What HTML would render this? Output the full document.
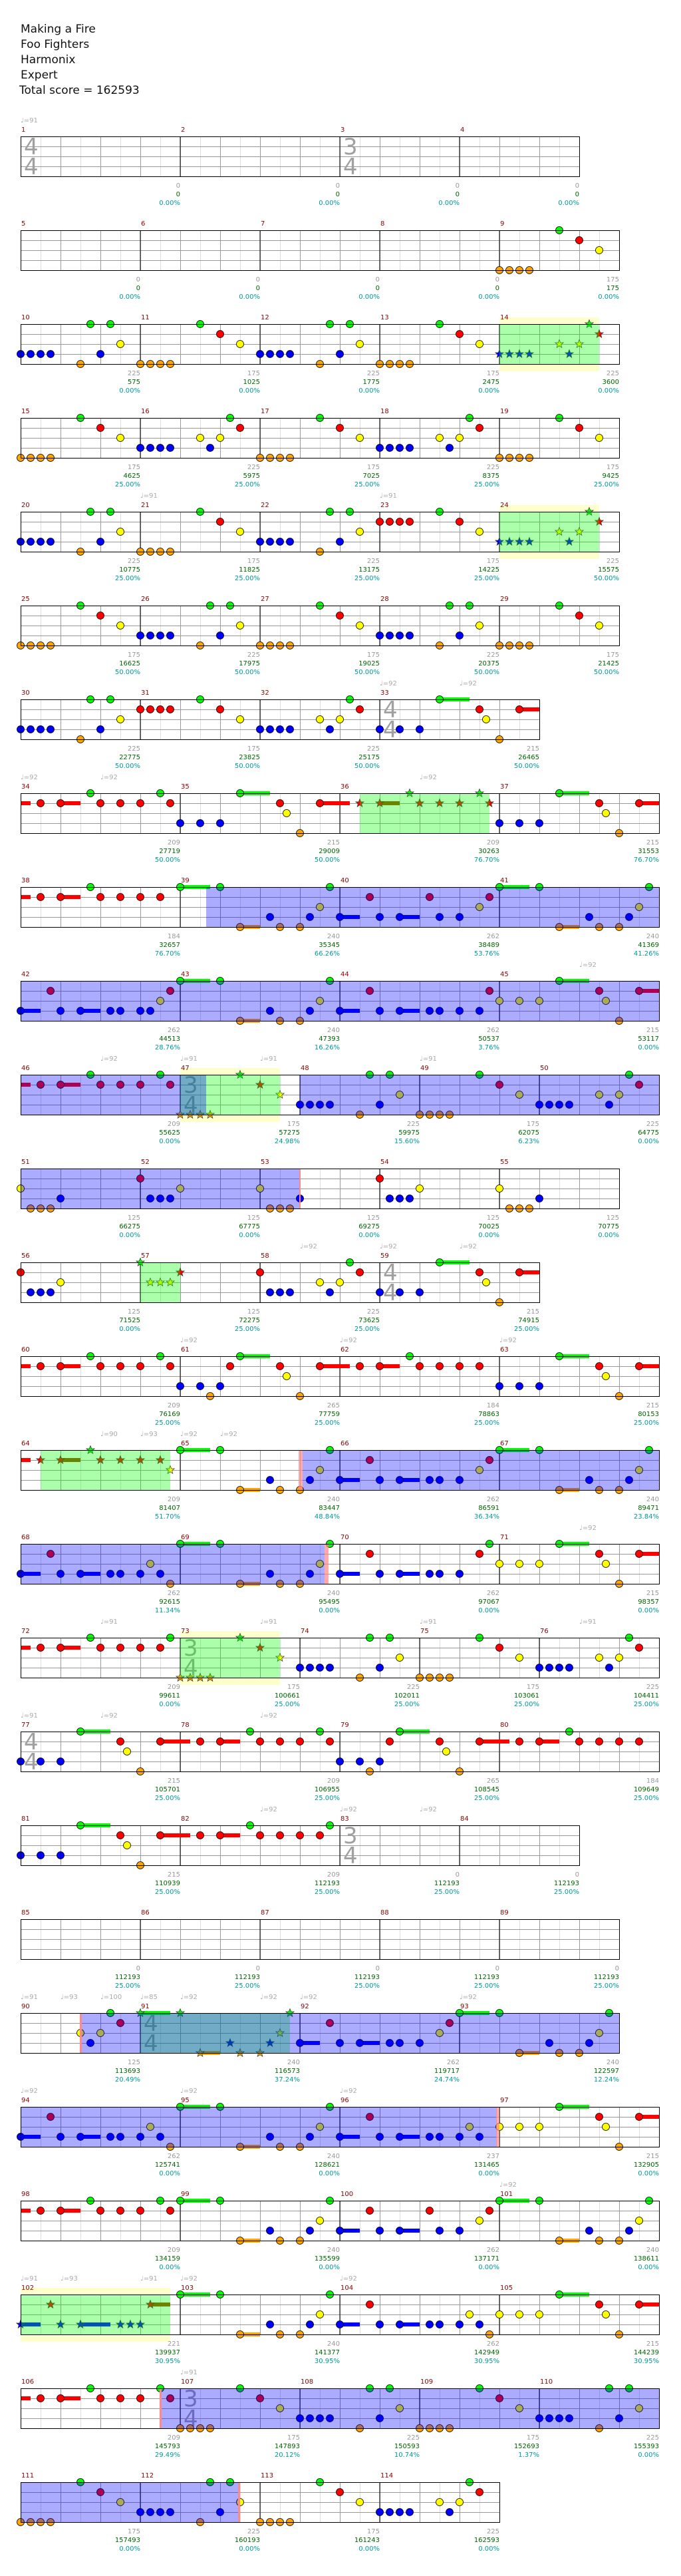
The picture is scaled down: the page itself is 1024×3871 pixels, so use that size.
<!DOCTYPE html>
<html><head><meta charset="utf-8"><style>
body{margin:0;background:#fff}
svg{display:block}
text{font-family:"DejaVu Sans","Liberation Sans",sans-serif}
.h{font-size:17px;fill:#111}
.mn{font-size:10px;fill:#8b0000}
.tp{font-size:10px;fill:#aaa}
.a{font-size:10px;fill:#999;text-anchor:end}
.b{font-size:10px;fill:#006400;text-anchor:end}
.c{font-size:10px;fill:#009a9a;text-anchor:end}
.ts{font-size:34px;fill:#a0a0a0}
</style></head><body>
<svg width="1024" height="3871" viewBox="0 0 1024 3871" xmlns="http://www.w3.org/2000/svg">
<defs>
<pattern id="grid" width="60" height="61" patternUnits="userSpaceOnUse">
<rect width="60" height="61" fill="#fff"/>
<line x1="30.5" y1="0" x2="30.5" y2="61" stroke="#dcdcdc"/>
<line x1="0.5" y1="0" x2="0.5" y2="61" stroke="#999"/>
<path d="M0 15.5h60M0 30.5h60M0 45.5h60" stroke="#999"/>
</pattern>
<circle id="g" r="5.5" fill="#00ff00" stroke="#000" stroke-width=".8"/>
<circle id="r" r="5.5" fill="#ff0000" stroke="#000" stroke-width=".8"/>
<circle id="y" r="5.5" fill="#ffff00" stroke="#000" stroke-width=".8"/>
<circle id="b" r="5.5" fill="#0000ff" stroke="#000" stroke-width=".8"/>
<circle id="o" r="5.5" fill="#ffa500" stroke="#000" stroke-width=".8"/>
<polygon id="st" points="0,-6.5 1.7,-2.1 6.2,-2 2.7,0.8 3.8,5.3 0,2.7 -3.8,5.3 -2.7,0.8 -6.2,-2 -1.7,-2.1" stroke="#333" stroke-width=".7"/>
<g id="A"><use href="#b" x="0" y="45"/><use href="#b" x="15" y="45"/><use href="#b" x="30" y="45"/><use href="#b" x="45" y="45"/><use href="#o" x="90" y="60"/><use href="#g" x="105" y="0"/><use href="#b" x="120" y="45"/><use href="#g" x="135" y="0"/><use href="#y" x="150" y="30"/></g>
<g id="Cm"><use href="#o" x="0" y="60"/><use href="#o" x="15" y="60"/><use href="#o" x="30" y="60"/><use href="#o" x="45" y="60"/><use href="#g" x="90" y="0"/><use href="#r" x="120" y="15"/><use href="#y" x="150" y="30"/></g>
<g id="Cr"><use href="#r" x="0" y="15"/><use href="#r" x="15" y="15"/><use href="#r" x="30" y="15"/><use href="#r" x="45" y="15"/><use href="#g" x="90" y="0"/><use href="#r" x="120" y="15"/><use href="#y" x="150" y="30"/></g>
<g id="Ap"><use href="#b" x="0" y="45"/><use href="#b" x="15" y="45"/><use href="#b" x="30" y="45"/><use href="#b" x="45" y="45"/><use href="#y" x="90" y="30"/><use href="#b" x="105" y="45"/><use href="#y" x="120" y="30"/><use href="#g" x="135" y="0"/><use href="#r" x="150" y="15"/></g>
<g id="D1"><use href="#y" x="0" y="30"/><use href="#o" x="15" y="60"/><use href="#o" x="30" y="60"/><use href="#o" x="45" y="60"/><use href="#b" x="60" y="45"/></g>
<g id="D2"><use href="#r" x="0" y="15"/><use href="#b" x="15" y="45"/><use href="#b" x="30" y="45"/><use href="#b" x="45" y="45"/><use href="#y" x="60" y="30"/></g>
<g id="S1"><rect x="90" y="-3" width="45" height="6" fill="#0f0"/><rect x="210" y="12" width="45" height="6" fill="#f00"/><use href="#b" x="0" y="45"/><use href="#b" x="30" y="45"/><use href="#b" x="60" y="45"/><use href="#g" x="90" y="0"/><use href="#r" x="150" y="15"/><use href="#y" x="160" y="30"/><use href="#o" x="180" y="60"/><use href="#r" x="210" y="15"/></g>
<g id="S1e"><rect x="90" y="-3" width="45" height="6" fill="#0f0"/><rect x="210" y="12" width="30" height="6" fill="#f00"/><use href="#b" x="0" y="45"/><use href="#b" x="30" y="45"/><use href="#b" x="60" y="45"/><use href="#g" x="90" y="0"/><use href="#r" x="150" y="15"/><use href="#y" x="160" y="30"/><use href="#o" x="180" y="60"/><use href="#r" x="210" y="15"/></g>
<g id="S2e"><rect x="90" y="-3" width="45" height="6" fill="#0f0"/><rect x="210" y="12" width="30" height="6" fill="#f00"/><use href="#y" x="0" y="30"/><use href="#y" x="30" y="30"/><use href="#y" x="60" y="30"/><use href="#g" x="90" y="0"/><use href="#r" x="150" y="15"/><use href="#y" x="160" y="30"/><use href="#o" x="180" y="60"/><use href="#r" x="210" y="15"/></g>
<g id="P"><rect x="0" y="12" width="15" height="6" fill="#f00"/><rect x="60" y="12" width="30" height="6" fill="#f00"/><use href="#r" x="30" y="15"/><use href="#r" x="60" y="15"/><use href="#g" x="105" y="0"/><use href="#r" x="120" y="15"/><use href="#r" x="150" y="15"/><use href="#r" x="180" y="15"/></g>
<g id="PA"><use href="#P"/><use href="#g" x="210" y="0"/><use href="#r" x="225" y="15"/></g>
<g id="Q"><rect x="0" y="-3" width="45" height="6" fill="#0f0"/><rect x="90" y="57" width="30" height="6" fill="#ffa500"/><use href="#g" x="0" y="0"/><use href="#g" x="60" y="0"/><use href="#o" x="90" y="60"/><use href="#b" x="135" y="45"/><use href="#o" x="150" y="60"/><use href="#o" x="180" y="60"/><use href="#b" x="195" y="45"/><use href="#y" x="210" y="30"/><use href="#g" x="225" y="0"/></g>
<g id="R0"><rect x="0" y="42" width="30" height="6" fill="#00f"/><rect x="90" y="42" width="30" height="6" fill="#00f"/><use href="#b" x="0" y="45"/><use href="#r" x="45" y="15"/><use href="#b" x="60" y="45"/><use href="#b" x="90" y="45"/><use href="#b" x="150" y="45"/><use href="#b" x="180" y="45"/></g>
<g id="M"><use href="#R0"/><use href="#b" x="135" y="45"/></g>
<g id="Aps"><use href="#st" fill="#00f" x="0" y="45"/><use href="#st" fill="#00f" x="15" y="45"/><use href="#st" fill="#00f" x="30" y="45"/><use href="#st" fill="#00f" x="45" y="45"/><use href="#st" fill="#ff0" x="90" y="30"/><use href="#st" fill="#00f" x="105" y="45"/><use href="#st" fill="#ff0" x="120" y="30"/><use href="#st" fill="#0f0" x="135" y="0"/><use href="#st" fill="#f00" x="150" y="15"/></g>
<g id="S47"><use href="#st" fill="#ffa500" x="0" y="60"/><use href="#st" fill="#ffa500" x="15" y="60"/><use href="#st" fill="#ffa500" x="30" y="60"/><use href="#st" fill="#ffa500" x="45" y="60"/><use href="#st" fill="#0f0" x="90" y="0"/><use href="#st" fill="#f00" x="120" y="15"/><use href="#st" fill="#ff0" x="150" y="30"/></g>
<g id="T44"><text class="ts" x="5" y="27">4</text><text class="ts" x="5" y="57">4</text></g>
<g id="T34"><text class="ts" x="5" y="27">3</text><text class="ts" x="5" y="57">4</text></g>
</defs>
<rect width="1024" height="3871" fill="#fff"/>
<text class="h" x="31" y="49">Making a Fire</text>
<text class="h" x="31" y="72">Foo Fighters</text>
<text class="h" x="31" y="95">Harmonix</text>
<text class="h" x="31" y="118">Expert</text>
<text class="h" x="29" y="141">Total score = 162593</text>

<g transform="translate(31,205)">
<rect width="840" height="61" fill="url(#grid)"/>
<path d="M240 0v61M480 0v61M660 0v61" stroke="#000"/>
<use href="#T44"/><use href="#T34" x="480"/>
<rect x=".5" y=".5" width="840" height="60" fill="none" stroke="#000"/>
<text class="tp" x="0" y="-21">♩=91</text>
<text class="mn" x="1" y="-7">1</text><text class="mn" x="241" y="-7">2</text><text class="mn" x="481" y="-7">3</text><text class="mn" x="661" y="-7">4</text>
<text class="a" x="240" y="77">0</text><text class="b" x="240" y="90">0</text><text class="c" x="240" y="103">0.00%</text>
<text class="a" x="480" y="77">0</text><text class="b" x="480" y="90">0</text><text class="c" x="480" y="103">0.00%</text>
<text class="a" x="660" y="77">0</text><text class="b" x="660" y="90">0</text><text class="c" x="660" y="103">0.00%</text>
<text class="a" x="840" y="77">0</text><text class="b" x="840" y="90">0</text><text class="c" x="840" y="103">0.00%</text>
</g>

<g transform="translate(31,346)">
<rect width="900" height="61" fill="url(#grid)"/>
<path d="M180 0v61M360 0v61M540 0v61M720 0v61" stroke="#000"/>
<use href="#Cm" x="720"/>
<rect x=".5" y=".5" width="900" height="60" fill="none" stroke="#000"/>
<text class="mn" x="1" y="-7">5</text><text class="mn" x="181" y="-7">6</text><text class="mn" x="361" y="-7">7</text><text class="mn" x="541" y="-7">8</text><text class="mn" x="721" y="-7">9</text>
<text class="a" x="180" y="77">0</text><text class="b" x="180" y="90">0</text><text class="c" x="180" y="103">0.00%</text>
<text class="a" x="360" y="77">0</text><text class="b" x="360" y="90">0</text><text class="c" x="360" y="103">0.00%</text>
<text class="a" x="540" y="77">0</text><text class="b" x="540" y="90">0</text><text class="c" x="540" y="103">0.00%</text>
<text class="a" x="720" y="77">0</text><text class="b" x="720" y="90">0</text><text class="c" x="720" y="103">0.00%</text>
<text class="a" x="900" y="77">175</text><text class="b" x="900" y="90">175</text><text class="c" x="900" y="103">0.00%</text>
</g>

<g transform="translate(31,487)">
<rect x="720" y="-10" width="150" height="81" fill="#ffffcc"/>
<rect width="900" height="61" fill="url(#grid)"/>
<path d="M180 0v61M360 0v61M540 0v61M720 0v61" stroke="#000"/>
<use href="#A" x="0"/><use href="#Cm" x="180"/><use href="#A" x="360"/><use href="#Cm" x="540"/><use href="#Aps" x="720"/>
<rect x="720" y="0" width="150" height="61" fill="#0f0" fill-opacity=".33"/>
<rect x=".5" y=".5" width="900" height="60" fill="none" stroke="#000"/>
<text class="mn" x="1" y="-7">10</text><text class="mn" x="181" y="-7">11</text><text class="mn" x="361" y="-7">12</text><text class="mn" x="541" y="-7">13</text><text class="mn" x="721" y="-7">14</text>
<text class="a" x="180" y="77">225</text><text class="b" x="180" y="90">575</text><text class="c" x="180" y="103">0.00%</text>
<text class="a" x="360" y="77">175</text><text class="b" x="360" y="90">1025</text><text class="c" x="360" y="103">0.00%</text>
<text class="a" x="540" y="77">225</text><text class="b" x="540" y="90">1775</text><text class="c" x="540" y="103">0.00%</text>
<text class="a" x="720" y="77">175</text><text class="b" x="720" y="90">2475</text><text class="c" x="720" y="103">0.00%</text>
<text class="a" x="900" y="77">225</text><text class="b" x="900" y="90">3600</text><text class="c" x="900" y="103">0.00%</text>
</g>

<g transform="translate(31,628)">
<rect width="900" height="61" fill="url(#grid)"/>
<path d="M180 0v61M360 0v61M540 0v61M720 0v61" stroke="#000"/>
<use href="#Cm" x="0"/><use href="#Ap" x="180"/><use href="#Cm" x="360"/><use href="#Ap" x="540"/><use href="#Cm" x="720"/>
<rect x=".5" y=".5" width="900" height="60" fill="none" stroke="#000"/>
<text class="mn" x="1" y="-7">15</text><text class="mn" x="181" y="-7">16</text><text class="mn" x="361" y="-7">17</text><text class="mn" x="541" y="-7">18</text><text class="mn" x="721" y="-7">19</text>
<text class="a" x="180" y="77">175</text><text class="b" x="180" y="90">4625</text><text class="c" x="180" y="103">25.00%</text>
<text class="a" x="360" y="77">225</text><text class="b" x="360" y="90">5975</text><text class="c" x="360" y="103">25.00%</text>
<text class="a" x="540" y="77">175</text><text class="b" x="540" y="90">7025</text><text class="c" x="540" y="103">25.00%</text>
<text class="a" x="720" y="77">225</text><text class="b" x="720" y="90">8375</text><text class="c" x="720" y="103">25.00%</text>
<text class="a" x="900" y="77">175</text><text class="b" x="900" y="90">9425</text><text class="c" x="900" y="103">25.00%</text>
</g>

<g transform="translate(31,769)">
<text class="tp" x="180" y="-21">♩=91</text><text class="tp" x="540" y="-21">♩=91</text>
<rect x="720" y="-10" width="150" height="81" fill="#ffffcc"/>
<rect width="900" height="61" fill="url(#grid)"/>
<path d="M180 0v61M360 0v61M540 0v61M720 0v61" stroke="#000"/>
<use href="#A" x="0"/><use href="#Cm" x="180"/><use href="#A" x="360"/><use href="#Cr" x="540"/><use href="#Aps" x="720"/>
<rect x="720" y="0" width="150" height="61" fill="#0f0" fill-opacity=".33"/>
<rect x=".5" y=".5" width="900" height="60" fill="none" stroke="#000"/>
<text class="mn" x="1" y="-7">20</text><text class="mn" x="181" y="-7">21</text><text class="mn" x="361" y="-7">22</text><text class="mn" x="541" y="-7">23</text><text class="mn" x="721" y="-7">24</text>
<text class="a" x="180" y="77">225</text><text class="b" x="180" y="90">10775</text><text class="c" x="180" y="103">25.00%</text>
<text class="a" x="360" y="77">175</text><text class="b" x="360" y="90">11825</text><text class="c" x="360" y="103">25.00%</text>
<text class="a" x="540" y="77">225</text><text class="b" x="540" y="90">13175</text><text class="c" x="540" y="103">25.00%</text>
<text class="a" x="720" y="77">175</text><text class="b" x="720" y="90">14225</text><text class="c" x="720" y="103">25.00%</text>
<text class="a" x="900" y="77">225</text><text class="b" x="900" y="90">15575</text><text class="c" x="900" y="103">50.00%</text>
</g>

<g transform="translate(31,910)">
<rect width="900" height="61" fill="url(#grid)"/>
<path d="M180 0v61M360 0v61M540 0v61M720 0v61" stroke="#000"/>
<use href="#Cm" x="0"/><use href="#A" x="180"/><use href="#Cm" x="360"/><use href="#A" x="540"/><use href="#Cm" x="720"/>
<rect x=".5" y=".5" width="900" height="60" fill="none" stroke="#000"/>
<text class="mn" x="1" y="-7">25</text><text class="mn" x="181" y="-7">26</text><text class="mn" x="361" y="-7">27</text><text class="mn" x="541" y="-7">28</text><text class="mn" x="721" y="-7">29</text>
<text class="a" x="180" y="77">175</text><text class="b" x="180" y="90">16625</text><text class="c" x="180" y="103">50.00%</text>
<text class="a" x="360" y="77">225</text><text class="b" x="360" y="90">17975</text><text class="c" x="360" y="103">50.00%</text>
<text class="a" x="540" y="77">175</text><text class="b" x="540" y="90">19025</text><text class="c" x="540" y="103">50.00%</text>
<text class="a" x="720" y="77">225</text><text class="b" x="720" y="90">20375</text><text class="c" x="720" y="103">50.00%</text>
<text class="a" x="900" y="77">175</text><text class="b" x="900" y="90">21425</text><text class="c" x="900" y="103">50.00%</text>
</g>

<g transform="translate(31,1051)">
<text class="tp" x="540" y="-21">♩=92</text><text class="tp" x="660" y="-21">♩=92</text>
<rect width="780" height="61" fill="url(#grid)"/>
<path d="M180 0v61M360 0v61M540 0v61" stroke="#000"/>
<use href="#T44" x="540"/>
<use href="#A" x="0"/><use href="#Cr" x="180"/><use href="#Ap" x="360"/><use href="#S1e" x="540"/>
<rect x=".5" y=".5" width="780" height="60" fill="none" stroke="#000"/>
<text class="mn" x="1" y="-7">30</text><text class="mn" x="181" y="-7">31</text><text class="mn" x="361" y="-7">32</text><text class="mn" x="541" y="-7">33</text>
<text class="a" x="180" y="77">225</text><text class="b" x="180" y="90">22775</text><text class="c" x="180" y="103">50.00%</text>
<text class="a" x="360" y="77">175</text><text class="b" x="360" y="90">23825</text><text class="c" x="360" y="103">50.00%</text>
<text class="a" x="540" y="77">225</text><text class="b" x="540" y="90">25175</text><text class="c" x="540" y="103">50.00%</text>
<text class="a" x="780" y="77">215</text><text class="b" x="780" y="90">26465</text><text class="c" x="780" y="103">50.00%</text>
</g>

<g transform="translate(31,1192)">
<text class="tp" x="0" y="-21">♩=92</text><text class="tp" x="120" y="-21">♩=92</text><text class="tp" x="600" y="-21">♩=92</text>
<rect width="960" height="61" fill="url(#grid)"/>
<path d="M240 0v61M480 0v61M720 0v61" stroke="#000"/>
<use href="#PA" x="0"/><use href="#S1" x="240"/>
<g transform="translate(480,0)"><rect x="60" y="12" width="30" height="6" fill="#a04800"/><use href="#st" fill="#f00" x="30" y="15"/><use href="#st" fill="#f00" x="60" y="15"/><use href="#st" fill="#0f0" x="105" y="0"/><use href="#st" fill="#f00" x="120" y="15"/><use href="#st" fill="#f00" x="150" y="15"/><use href="#st" fill="#f00" x="180" y="15"/><use href="#st" fill="#0f0" x="210" y="0"/><use href="#st" fill="#f00" x="225" y="15"/></g>
<use href="#S1e" x="720"/>
<rect x="510" y="0" width="195" height="61" fill="#0f0" fill-opacity=".33"/>
<rect x=".5" y=".5" width="960" height="60" fill="none" stroke="#000"/>
<text class="mn" x="1" y="-7">34</text><text class="mn" x="241" y="-7">35</text><text class="mn" x="481" y="-7">36</text><text class="mn" x="721" y="-7">37</text>
<text class="a" x="240" y="77">209</text><text class="b" x="240" y="90">27719</text><text class="c" x="240" y="103">50.00%</text>
<text class="a" x="480" y="77">215</text><text class="b" x="480" y="90">29009</text><text class="c" x="480" y="103">50.00%</text>
<text class="a" x="720" y="77">209</text><text class="b" x="720" y="90">30263</text><text class="c" x="720" y="103">76.70%</text>
<text class="a" x="960" y="77">215</text><text class="b" x="960" y="90">31553</text><text class="c" x="960" y="103">76.70%</text>
</g>

<g transform="translate(31,1333)">
<rect width="960" height="61" fill="url(#grid)"/>
<path d="M240 0v61M480 0v61M720 0v61" stroke="#000"/>
<use href="#P" x="0"/><use href="#r" x="210" y="15"/>
<use href="#Q" x="240"/>
<use href="#R0" x="480"/><use href="#r" x="615" y="15"/><use href="#y" x="690" y="30"/><use href="#r" x="705" y="15"/>
<use href="#Q" x="720"/>
<rect x="279" y="0" width="681" height="61" fill="#00f" fill-opacity=".33"/>
<rect x=".5" y=".5" width="960" height="60" fill="none" stroke="#000"/>
<text class="mn" x="1" y="-7">38</text><text class="mn" x="241" y="-7">39</text><text class="mn" x="481" y="-7">40</text><text class="mn" x="721" y="-7">41</text>
<text class="a" x="240" y="77">184</text><text class="b" x="240" y="90">32657</text><text class="c" x="240" y="103">76.70%</text>
<text class="a" x="480" y="77">240</text><text class="b" x="480" y="90">35345</text><text class="c" x="480" y="103">66.26%</text>
<text class="a" x="720" y="77">262</text><text class="b" x="720" y="90">38489</text><text class="c" x="720" y="103">53.76%</text>
<text class="a" x="960" y="77">240</text><text class="b" x="960" y="90">41369</text><text class="c" x="960" y="103">41.26%</text>
</g>

<g transform="translate(31,1474)">
<text class="tp" x="840" y="-21">♩=92</text>
<rect width="960" height="61" fill="url(#grid)"/>
<path d="M240 0v61M480 0v61M720 0v61" stroke="#000"/>
<use href="#M" x="0"/><use href="#b" x="195" y="45"/><use href="#y" x="210" y="30"/><use href="#r" x="225" y="15"/>
<use href="#Q" x="240"/>
<use href="#R0" x="480"/><use href="#b" x="615" y="45"/><use href="#b" x="690" y="45"/><use href="#r" x="705" y="15"/>
<use href="#S2e" x="720"/>
<rect x="0" y="0" width="960" height="61" fill="#00f" fill-opacity=".33"/>
<rect x=".5" y=".5" width="960" height="60" fill="none" stroke="#000"/>
<text class="mn" x="1" y="-7">42</text><text class="mn" x="241" y="-7">43</text><text class="mn" x="481" y="-7">44</text><text class="mn" x="721" y="-7">45</text>
<text class="a" x="240" y="77">262</text><text class="b" x="240" y="90">44513</text><text class="c" x="240" y="103">28.76%</text>
<text class="a" x="480" y="77">240</text><text class="b" x="480" y="90">47393</text><text class="c" x="480" y="103">16.26%</text>
<text class="a" x="720" y="77">262</text><text class="b" x="720" y="90">50537</text><text class="c" x="720" y="103">3.76%</text>
<text class="a" x="960" y="77">215</text><text class="b" x="960" y="90">53117</text><text class="c" x="960" y="103">0.00%</text>
</g>

<g transform="translate(31,1615)">
<text class="tp" x="120" y="-21">♩=92</text><text class="tp" x="240" y="-21">♩=91</text><text class="tp" x="360" y="-21">♩=91</text><text class="tp" x="600" y="-21">♩=91</text>
<rect x="240" y="-10" width="150" height="81" fill="#ffffcc"/>
<rect width="960" height="61" fill="url(#grid)"/>
<path d="M240 0v61M420 0v61M600 0v61M780 0v61" stroke="#000"/>
<use href="#T34" x="240"/>
<use href="#PA" x="0"/><use href="#S47" x="240"/><use href="#A" x="420"/><use href="#Cm" x="600"/><use href="#Ap" x="780"/>
<rect x="240" y="0" width="150" height="61" fill="#0f0" fill-opacity=".33"/>
<rect x="0" y="0" width="279" height="61" fill="#00f" fill-opacity=".33"/>
<rect x="420" y="0" width="540" height="61" fill="#00f" fill-opacity=".33"/>
<rect x=".5" y=".5" width="960" height="60" fill="none" stroke="#000"/>
<text class="mn" x="1" y="-7">46</text><text class="mn" x="241" y="-7">47</text><text class="mn" x="421" y="-7">48</text><text class="mn" x="601" y="-7">49</text><text class="mn" x="781" y="-7">50</text>
<text class="a" x="240" y="77">209</text><text class="b" x="240" y="90">55625</text><text class="c" x="240" y="103">0.00%</text>
<text class="a" x="420" y="77">175</text><text class="b" x="420" y="90">57275</text><text class="c" x="420" y="103">24.98%</text>
<text class="a" x="600" y="77">225</text><text class="b" x="600" y="90">59975</text><text class="c" x="600" y="103">15.60%</text>
<text class="a" x="780" y="77">175</text><text class="b" x="780" y="90">62075</text><text class="c" x="780" y="103">6.23%</text>
<text class="a" x="960" y="77">225</text><text class="b" x="960" y="90">64775</text><text class="c" x="960" y="103">0.00%</text>
</g>

<g transform="translate(31,1756)">
<rect width="900" height="61" fill="url(#grid)"/>
<path d="M180 0v61M360 0v61M540 0v61M720 0v61" stroke="#000"/>
<use href="#D1" x="0"/><use href="#D2" x="180"/><use href="#D1" x="360"/><use href="#D2" x="540"/><use href="#D1" x="720"/>
<rect x="0" y="0" width="420" height="61" fill="#00f" fill-opacity=".33"/>
<rect x="419" y="0" width="2" height="61" fill="#f88"/>
<rect x=".5" y=".5" width="900" height="60" fill="none" stroke="#000"/>
<text class="mn" x="1" y="-7">51</text><text class="mn" x="181" y="-7">52</text><text class="mn" x="361" y="-7">53</text><text class="mn" x="541" y="-7">54</text><text class="mn" x="721" y="-7">55</text>
<text class="a" x="180" y="77">125</text><text class="b" x="180" y="90">66275</text><text class="c" x="180" y="103">0.00%</text>
<text class="a" x="360" y="77">125</text><text class="b" x="360" y="90">67775</text><text class="c" x="360" y="103">0.00%</text>
<text class="a" x="540" y="77">125</text><text class="b" x="540" y="90">69275</text><text class="c" x="540" y="103">0.00%</text>
<text class="a" x="720" y="77">125</text><text class="b" x="720" y="90">70025</text><text class="c" x="720" y="103">0.00%</text>
<text class="a" x="900" y="77">125</text><text class="b" x="900" y="90">70775</text><text class="c" x="900" y="103">0.00%</text>
</g>

<g transform="translate(31,1897)">
<text class="tp" x="420" y="-21">♩=92</text><text class="tp" x="540" y="-21">♩=92</text><text class="tp" x="660" y="-21">♩=92</text>
<rect width="780" height="61" fill="url(#grid)"/>
<path d="M180 0v61M360 0v61M540 0v61" stroke="#000"/>
<use href="#T44" x="540"/>
<use href="#D2" x="0"/>
<g transform="translate(180,0)"><use href="#st" fill="#0f0" x="0" y="0"/><use href="#st" fill="#ff0" x="15" y="30"/><use href="#st" fill="#ff0" x="30" y="30"/><use href="#st" fill="#ff0" x="45" y="30"/><use href="#st" fill="#f00" x="60" y="15"/></g>
<g transform="translate(360,0)"><use href="#r" x="0" y="15"/><use href="#b" x="15" y="45"/><use href="#b" x="30" y="45"/><use href="#b" x="45" y="45"/><use href="#y" x="90" y="30"/><use href="#b" x="105" y="45"/><use href="#y" x="120" y="30"/><use href="#g" x="135" y="0"/><use href="#r" x="150" y="15"/></g>
<use href="#S1e" x="540"/>
<rect x="180" y="0" width="60" height="61" fill="#0f0" fill-opacity=".33"/>
<rect x=".5" y=".5" width="780" height="60" fill="none" stroke="#000"/>
<text class="mn" x="1" y="-7">56</text><text class="mn" x="181" y="-7">57</text><text class="mn" x="361" y="-7">58</text><text class="mn" x="541" y="-7">59</text>
<text class="a" x="180" y="77">125</text><text class="b" x="180" y="90">71525</text><text class="c" x="180" y="103">0.00%</text>
<text class="a" x="360" y="77">125</text><text class="b" x="360" y="90">72275</text><text class="c" x="360" y="103">25.00%</text>
<text class="a" x="540" y="77">225</text><text class="b" x="540" y="90">73625</text><text class="c" x="540" y="103">25.00%</text>
<text class="a" x="780" y="77">215</text><text class="b" x="780" y="90">74915</text><text class="c" x="780" y="103">25.00%</text>
</g>

<g transform="translate(31,2038)">
<text class="tp" x="240" y="-21">♩=92</text><text class="tp" x="480" y="-21">♩=92</text><text class="tp" x="720" y="-21">♩=92</text>
<rect width="960" height="61" fill="url(#grid)"/>
<path d="M240 0v61M480 0v61M720 0v61" stroke="#000"/>
<use href="#PA" x="0"/>
<use href="#S1" x="240"/><use href="#o" x="285" y="60"/><use href="#r" x="315" y="15"/>
<use href="#P" x="480"/><use href="#r" x="690" y="15"/>
<use href="#S1e" x="720"/>
<rect x=".5" y=".5" width="960" height="60" fill="none" stroke="#000"/>
<text class="mn" x="1" y="-7">60</text><text class="mn" x="241" y="-7">61</text><text class="mn" x="481" y="-7">62</text><text class="mn" x="721" y="-7">63</text>
<text class="a" x="240" y="77">209</text><text class="b" x="240" y="90">76169</text><text class="c" x="240" y="103">25.00%</text>
<text class="a" x="480" y="77">265</text><text class="b" x="480" y="90">77759</text><text class="c" x="480" y="103">25.00%</text>
<text class="a" x="720" y="77">184</text><text class="b" x="720" y="90">78863</text><text class="c" x="720" y="103">25.00%</text>
<text class="a" x="960" y="77">215</text><text class="b" x="960" y="90">80153</text><text class="c" x="960" y="103">25.00%</text>
</g>

<g transform="translate(31,2179)">
<text class="tp" x="120" y="-21">♩=90</text><text class="tp" x="180" y="-21">♩=93</text><text class="tp" x="240" y="-21">♩=92</text><text class="tp" x="300" y="-21">♩=92</text>
<rect width="960" height="61" fill="url(#grid)"/>
<path d="M240 0v61M480 0v61M720 0v61" stroke="#000"/>
<rect x="0" y="12" width="15" height="6" fill="#f00"/><rect x="60" y="12" width="30" height="6" fill="#a04800"/>
<use href="#st" fill="#f00" x="30" y="15"/><use href="#st" fill="#f00" x="60" y="15"/><use href="#st" fill="#0f0" x="105" y="0"/><use href="#st" fill="#f00" x="120" y="15"/><use href="#st" fill="#f00" x="150" y="15"/><use href="#st" fill="#f00" x="180" y="15"/><use href="#st" fill="#f00" x="210" y="15"/><use href="#st" fill="#ff0" x="225" y="30"/>
<use href="#Q" x="240"/>
<use href="#R0" x="480"/><use href="#b" x="615" y="45"/><use href="#y" x="690" y="30"/><use href="#r" x="705" y="15"/>
<use href="#Q" x="720"/>
<rect x="30" y="0" width="195" height="61" fill="#0f0" fill-opacity=".33"/>
<rect x="424" y="0" width="536" height="61" fill="#00f" fill-opacity=".33"/>
<rect x="418" y="0" width="6" height="61" fill="#f88" fill-opacity=".7"/>
<rect x=".5" y=".5" width="960" height="60" fill="none" stroke="#000"/>
<text class="mn" x="1" y="-7">64</text><text class="mn" x="241" y="-7">65</text><text class="mn" x="481" y="-7">66</text><text class="mn" x="721" y="-7">67</text>
<text class="a" x="240" y="77">209</text><text class="b" x="240" y="90">81407</text><text class="c" x="240" y="103">51.70%</text>
<text class="a" x="480" y="77">240</text><text class="b" x="480" y="90">83447</text><text class="c" x="480" y="103">48.84%</text>
<text class="a" x="720" y="77">262</text><text class="b" x="720" y="90">86591</text><text class="c" x="720" y="103">36.34%</text>
<text class="a" x="960" y="77">240</text><text class="b" x="960" y="90">89471</text><text class="c" x="960" y="103">23.84%</text>
</g>

<g transform="translate(31,2320)">
<text class="tp" x="840" y="-21">♩=92</text>
<rect width="960" height="61" fill="url(#grid)"/>
<path d="M240 0v61M480 0v61M720 0v61" stroke="#000"/>
<use href="#M" x="0"/><use href="#y" x="195" y="30"/><use href="#b" x="210" y="45"/><use href="#o" x="225" y="60"/>
<use href="#Q" x="240"/>
<use href="#R0" x="480"/><use href="#b" x="615" y="45"/><use href="#r" x="690" y="15"/><use href="#g" x="705" y="0"/>
<use href="#S2e" x="720"/>
<rect x="0" y="0" width="457" height="61" fill="#00f" fill-opacity=".33"/>
<rect x="457" y="0" width="6" height="61" fill="#f88" fill-opacity=".7"/>
<rect x=".5" y=".5" width="960" height="60" fill="none" stroke="#000"/>
<text class="mn" x="1" y="-7">68</text><text class="mn" x="241" y="-7">69</text><text class="mn" x="481" y="-7">70</text><text class="mn" x="721" y="-7">71</text>
<text class="a" x="240" y="77">262</text><text class="b" x="240" y="90">92615</text><text class="c" x="240" y="103">11.34%</text>
<text class="a" x="480" y="77">240</text><text class="b" x="480" y="90">95495</text><text class="c" x="480" y="103">0.00%</text>
<text class="a" x="720" y="77">262</text><text class="b" x="720" y="90">97067</text><text class="c" x="720" y="103">0.00%</text>
<text class="a" x="960" y="77">215</text><text class="b" x="960" y="90">98357</text><text class="c" x="960" y="103">0.00%</text>
</g>

<g transform="translate(31,2461)">
<text class="tp" x="120" y="-21">♩=91</text><text class="tp" x="360" y="-21">♩=91</text><text class="tp" x="600" y="-21">♩=91</text><text class="tp" x="840" y="-21">♩=91</text>
<rect x="240" y="-10" width="150" height="81" fill="#ffffcc"/>
<rect width="960" height="61" fill="url(#grid)"/>
<path d="M240 0v61M420 0v61M600 0v61M780 0v61" stroke="#000"/>
<use href="#T34" x="240"/>
<use href="#P" x="0"/><use href="#r" x="210" y="15"/><use href="#g" x="225" y="0"/>
<use href="#S47" x="240"/><use href="#A" x="420"/><use href="#Cm" x="600"/><use href="#Ap" x="780"/>
<rect x="240" y="0" width="150" height="61" fill="#0f0" fill-opacity=".33"/>
<rect x=".5" y=".5" width="960" height="60" fill="none" stroke="#000"/>
<text class="mn" x="1" y="-7">72</text><text class="mn" x="241" y="-7">73</text><text class="mn" x="421" y="-7">74</text><text class="mn" x="601" y="-7">75</text><text class="mn" x="781" y="-7">76</text>
<text class="a" x="240" y="77">209</text><text class="b" x="240" y="90">99611</text><text class="c" x="240" y="103">0.00%</text>
<text class="a" x="420" y="77">175</text><text class="b" x="420" y="90">100661</text><text class="c" x="420" y="103">25.00%</text>
<text class="a" x="600" y="77">225</text><text class="b" x="600" y="90">102011</text><text class="c" x="600" y="103">25.00%</text>
<text class="a" x="780" y="77">175</text><text class="b" x="780" y="90">103061</text><text class="c" x="780" y="103">25.00%</text>
<text class="a" x="960" y="77">225</text><text class="b" x="960" y="90">104411</text><text class="c" x="960" y="103">25.00%</text>
</g>

<g transform="translate(31,2602)">
<text class="tp" x="0" y="-21">♩=91</text><text class="tp" x="120" y="-21">♩=92</text><text class="tp" x="360" y="-21">♩=92</text>
<rect width="960" height="61" fill="url(#grid)"/>
<path d="M240 0v61M480 0v61M720 0v61" stroke="#000"/>
<use href="#T44"/>
<use href="#S1" x="0"/><use href="#PA" x="240"/>
<use href="#S1" x="480"/><use href="#o" x="525" y="60"/><use href="#r" x="555" y="15"/>
<use href="#P" x="720"/><use href="#r" x="930" y="15"/>
<rect x=".5" y=".5" width="960" height="60" fill="none" stroke="#000"/>
<text class="mn" x="1" y="-7">77</text><text class="mn" x="241" y="-7">78</text><text class="mn" x="481" y="-7">79</text><text class="mn" x="721" y="-7">80</text>
<text class="a" x="240" y="77">215</text><text class="b" x="240" y="90">105701</text><text class="c" x="240" y="103">25.00%</text>
<text class="a" x="480" y="77">209</text><text class="b" x="480" y="90">106955</text><text class="c" x="480" y="103">25.00%</text>
<text class="a" x="720" y="77">265</text><text class="b" x="720" y="90">108545</text><text class="c" x="720" y="103">25.00%</text>
<text class="a" x="960" y="77">184</text><text class="b" x="960" y="90">109649</text><text class="c" x="960" y="103">25.00%</text>
</g>

<g transform="translate(31,2743)">
<text class="tp" x="360" y="-21">♩=92</text><text class="tp" x="480" y="-21">♩=92</text><text class="tp" x="600" y="-21">♩=92</text>
<rect width="840" height="61" fill="url(#grid)"/>
<path d="M240 0v61M480 0v61M660 0v61" stroke="#000"/>
<use href="#T34" x="480"/>
<use href="#S1" x="0"/><use href="#P" x="240"/><use href="#r" x="450" y="15"/><use href="#g" x="465" y="0"/>
<rect x=".5" y=".5" width="840" height="60" fill="none" stroke="#000"/>
<text class="mn" x="1" y="-7">81</text><text class="mn" x="241" y="-7">82</text><text class="mn" x="481" y="-7">83</text><text class="mn" x="661" y="-7">84</text>
<text class="a" x="240" y="77">215</text><text class="b" x="240" y="90">110939</text><text class="c" x="240" y="103">25.00%</text>
<text class="a" x="480" y="77">209</text><text class="b" x="480" y="90">112193</text><text class="c" x="480" y="103">25.00%</text>
<text class="a" x="660" y="77">0</text><text class="b" x="660" y="90">112193</text><text class="c" x="660" y="103">25.00%</text>
<text class="a" x="840" y="77">0</text><text class="b" x="840" y="90">112193</text><text class="c" x="840" y="103">25.00%</text>
</g>

<g transform="translate(31,2884)">
<rect width="900" height="61" fill="url(#grid)"/>
<path d="M180 0v61M360 0v61M540 0v61M720 0v61" stroke="#000"/>
<rect x=".5" y=".5" width="900" height="60" fill="none" stroke="#000"/>
<text class="mn" x="1" y="-7">85</text><text class="mn" x="181" y="-7">86</text><text class="mn" x="361" y="-7">87</text><text class="mn" x="541" y="-7">88</text><text class="mn" x="721" y="-7">89</text>
<text class="a" x="180" y="77">0</text><text class="b" x="180" y="90">112193</text><text class="c" x="180" y="103">25.00%</text>
<text class="a" x="360" y="77">0</text><text class="b" x="360" y="90">112193</text><text class="c" x="360" y="103">25.00%</text>
<text class="a" x="540" y="77">0</text><text class="b" x="540" y="90">112193</text><text class="c" x="540" y="103">25.00%</text>
<text class="a" x="720" y="77">0</text><text class="b" x="720" y="90">112193</text><text class="c" x="720" y="103">25.00%</text>
<text class="a" x="900" y="77">0</text><text class="b" x="900" y="90">112193</text><text class="c" x="900" y="103">25.00%</text>
</g>

<g transform="translate(31,3025)">
<text class="tp" x="0" y="-21">♩=91</text><text class="tp" x="60" y="-21">♩=93</text><text class="tp" x="120" y="-21">♩=100</text><text class="tp" x="180" y="-21">♩=85</text><text class="tp" x="240" y="-21">♩=92</text><text class="tp" x="360" y="-21">♩=92</text><text class="tp" x="420" y="-21">♩=92</text><text class="tp" x="660" y="-21">♩=92</text>
<rect width="900" height="61" fill="url(#grid)"/>
<path d="M180 0v61M420 0v61M660 0v61" stroke="#000"/>
<use href="#T44" x="180"/>
<use href="#y" x="90" y="30"/><use href="#b" x="105" y="45"/><use href="#y" x="120" y="30"/><use href="#g" x="135" y="0"/><use href="#r" x="150" y="15"/>
<g transform="translate(180,0)"><rect x="0" y="-3" width="45" height="6" fill="#0f0"/><rect x="90" y="57" width="30" height="6" fill="#ffa500"/><use href="#st" fill="#0f0" x="0" y="0"/><use href="#st" fill="#0f0" x="60" y="0"/><use href="#st" fill="#ffa500" x="90" y="60"/><use href="#st" fill="#00f" x="135" y="45"/><use href="#st" fill="#ffa500" x="150" y="60"/><use href="#st" fill="#ffa500" x="180" y="60"/><use href="#st" fill="#00f" x="195" y="45"/><use href="#st" fill="#ff0" x="210" y="30"/><use href="#st" fill="#0f0" x="225" y="0"/></g>
<use href="#R0" x="420"/><use href="#b" x="555" y="45"/><use href="#y" x="630" y="30"/><use href="#r" x="645" y="15"/>
<use href="#Q" x="660"/>
<rect x="180" y="0" width="225" height="61" fill="#0f0" fill-opacity=".33"/>
<rect x="92" y="0" width="808" height="61" fill="#00f" fill-opacity=".33"/>
<rect x="89" y="0" width="3" height="61" fill="#f88"/>
<rect x=".5" y=".5" width="900" height="60" fill="none" stroke="#000"/>
<text class="mn" x="1" y="-7">90</text><text class="mn" x="181" y="-7">91</text><text class="mn" x="421" y="-7">92</text><text class="mn" x="661" y="-7">93</text>
<text class="a" x="180" y="77">125</text><text class="b" x="180" y="90">113693</text><text class="c" x="180" y="103">20.49%</text>
<text class="a" x="420" y="77">240</text><text class="b" x="420" y="90">116573</text><text class="c" x="420" y="103">37.24%</text>
<text class="a" x="660" y="77">262</text><text class="b" x="660" y="90">119717</text><text class="c" x="660" y="103">24.74%</text>
<text class="a" x="900" y="77">240</text><text class="b" x="900" y="90">122597</text><text class="c" x="900" y="103">12.24%</text>
</g>

<g transform="translate(31,3166)">
<text class="tp" x="0" y="-21">♩=92</text><text class="tp" x="240" y="-21">♩=92</text><text class="tp" x="480" y="-21">♩=92</text>
<rect width="960" height="61" fill="url(#grid)"/>
<path d="M240 0v61M480 0v61M720 0v61" stroke="#000"/>
<use href="#M" x="0"/><use href="#y" x="195" y="30"/><use href="#b" x="210" y="45"/><use href="#o" x="225" y="60"/>
<use href="#Q" x="240"/>
<use href="#R0" x="480"/><use href="#b" x="615" y="45"/><use href="#y" x="675" y="30"/><use href="#b" x="690" y="45"/>
<use href="#S2e" x="720"/>
<rect x="0" y="0" width="716" height="61" fill="#00f" fill-opacity=".33"/>
<rect x="715" y="0" width="5" height="61" fill="#f88" fill-opacity=".7"/>
<rect x=".5" y=".5" width="960" height="60" fill="none" stroke="#000"/>
<text class="mn" x="1" y="-7">94</text><text class="mn" x="241" y="-7">95</text><text class="mn" x="481" y="-7">96</text><text class="mn" x="721" y="-7">97</text>
<text class="a" x="240" y="77">262</text><text class="b" x="240" y="90">125741</text><text class="c" x="240" y="103">0.00%</text>
<text class="a" x="480" y="77">240</text><text class="b" x="480" y="90">128621</text><text class="c" x="480" y="103">0.00%</text>
<text class="a" x="720" y="77">237</text><text class="b" x="720" y="90">131465</text><text class="c" x="720" y="103">0.00%</text>
<text class="a" x="960" y="77">215</text><text class="b" x="960" y="90">132905</text><text class="c" x="960" y="103">0.00%</text>
</g>

<g transform="translate(31,3307)">
<text class="tp" x="720" y="-21">♩=92</text>
<rect width="960" height="61" fill="url(#grid)"/>
<path d="M240 0v61M480 0v61M720 0v61" stroke="#000"/>
<use href="#PA" x="0"/><use href="#Q" x="240"/>
<use href="#R0" x="480"/><use href="#r" x="615" y="15"/><use href="#y" x="690" y="30"/><use href="#r" x="705" y="15"/>
<use href="#Q" x="720"/>
<rect x=".5" y=".5" width="960" height="60" fill="none" stroke="#000"/>
<text class="mn" x="1" y="-7">98</text><text class="mn" x="241" y="-7">99</text><text class="mn" x="481" y="-7">100</text><text class="mn" x="721" y="-7">101</text>
<text class="a" x="240" y="77">209</text><text class="b" x="240" y="90">134159</text><text class="c" x="240" y="103">0.00%</text>
<text class="a" x="480" y="77">240</text><text class="b" x="480" y="90">135599</text><text class="c" x="480" y="103">0.00%</text>
<text class="a" x="720" y="77">262</text><text class="b" x="720" y="90">137171</text><text class="c" x="720" y="103">0.00%</text>
<text class="a" x="960" y="77">240</text><text class="b" x="960" y="90">138611</text><text class="c" x="960" y="103">0.00%</text>
</g>

<g transform="translate(31,3448)">
<text class="tp" x="0" y="-21">♩=91</text><text class="tp" x="60" y="-21">♩=93</text><text class="tp" x="180" y="-21">♩=91</text><text class="tp" x="240" y="-21">♩=92</text><text class="tp" x="480" y="-21">♩=92</text>
<rect x="0" y="-10" width="225" height="81" fill="#ffffcc"/>
<rect width="960" height="61" fill="url(#grid)"/>
<path d="M240 0v61M480 0v61M720 0v61" stroke="#000"/>
<rect x="0" y="42" width="30" height="6" fill="#00f"/><rect x="90" y="42" width="45" height="6" fill="#00f"/><rect x="195" y="12" width="30" height="6" fill="#a04800"/>
<use href="#st" fill="#00f" x="0" y="45"/><use href="#st" fill="#f00" x="45" y="15"/><use href="#st" fill="#00f" x="60" y="45"/><use href="#st" fill="#00f" x="90" y="45"/><use href="#st" fill="#00f" x="150" y="45"/><use href="#st" fill="#00f" x="165" y="45"/><use href="#st" fill="#00f" x="180" y="45"/><use href="#st" fill="#f00" x="195" y="15"/>
<use href="#Q" x="240"/>
<use href="#R0" x="480"/><use href="#b" x="615" y="45"/><use href="#y" x="675" y="30"/><use href="#b" x="690" y="45"/><use href="#o" x="705" y="60"/>
<use href="#S2e" x="720"/>
<rect x="0" y="0" width="225" height="61" fill="#0f0" fill-opacity=".33"/>
<rect x=".5" y=".5" width="960" height="60" fill="none" stroke="#000"/>
<text class="mn" x="1" y="-7">102</text><text class="mn" x="241" y="-7">103</text><text class="mn" x="481" y="-7">104</text><text class="mn" x="721" y="-7">105</text>
<text class="a" x="240" y="77">221</text><text class="b" x="240" y="90">139937</text><text class="c" x="240" y="103">30.95%</text>
<text class="a" x="480" y="77">240</text><text class="b" x="480" y="90">141377</text><text class="c" x="480" y="103">30.95%</text>
<text class="a" x="720" y="77">262</text><text class="b" x="720" y="90">142949</text><text class="c" x="720" y="103">30.95%</text>
<text class="a" x="960" y="77">215</text><text class="b" x="960" y="90">144239</text><text class="c" x="960" y="103">30.95%</text>
</g>

<g transform="translate(31,3589)">
<text class="tp" x="240" y="-21">♩=91</text>
<rect width="960" height="61" fill="url(#grid)"/>
<path d="M240 0v61M420 0v61M600 0v61M780 0v61" stroke="#000"/>
<use href="#T34" x="240"/>
<use href="#PA" x="0"/><use href="#Cm" x="240"/><use href="#A" x="420"/><use href="#Cm" x="600"/><use href="#A" x="780"/>
<rect x="212" y="0" width="748" height="61" fill="#00f" fill-opacity=".33"/>
<rect x="209" y="0" width="3" height="61" fill="#f88"/>
<rect x=".5" y=".5" width="960" height="60" fill="none" stroke="#000"/>
<text class="mn" x="1" y="-7">106</text><text class="mn" x="241" y="-7">107</text><text class="mn" x="421" y="-7">108</text><text class="mn" x="601" y="-7">109</text><text class="mn" x="781" y="-7">110</text>
<text class="a" x="240" y="77">209</text><text class="b" x="240" y="90">145793</text><text class="c" x="240" y="103">29.49%</text>
<text class="a" x="420" y="77">175</text><text class="b" x="420" y="90">147893</text><text class="c" x="420" y="103">20.12%</text>
<text class="a" x="600" y="77">225</text><text class="b" x="600" y="90">150593</text><text class="c" x="600" y="103">10.74%</text>
<text class="a" x="780" y="77">175</text><text class="b" x="780" y="90">152693</text><text class="c" x="780" y="103">1.37%</text>
<text class="a" x="960" y="77">225</text><text class="b" x="960" y="90">155393</text><text class="c" x="960" y="103">0.00%</text>
</g>

<g transform="translate(31,3730)">
<rect width="720" height="61" fill="url(#grid)"/>
<path d="M180 0v61M360 0v61M540 0v61" stroke="#000"/>
<use href="#Cm" x="0"/><use href="#A" x="180"/><use href="#Cm" x="360"/><use href="#Ap" x="540"/>
<rect x="0" y="0" width="327" height="61" fill="#00f" fill-opacity=".33"/>
<rect x="327" y="0" width="3" height="61" fill="#f88"/>
<rect x=".5" y=".5" width="720" height="60" fill="none" stroke="#000"/>
<text class="mn" x="1" y="-7">111</text><text class="mn" x="181" y="-7">112</text><text class="mn" x="361" y="-7">113</text><text class="mn" x="541" y="-7">114</text>
<text class="a" x="180" y="77">175</text><text class="b" x="180" y="90">157493</text><text class="c" x="180" y="103">0.00%</text>
<text class="a" x="360" y="77">225</text><text class="b" x="360" y="90">160193</text><text class="c" x="360" y="103">0.00%</text>
<text class="a" x="540" y="77">175</text><text class="b" x="540" y="90">161243</text><text class="c" x="540" y="103">0.00%</text>
<text class="a" x="720" y="77">225</text><text class="b" x="720" y="90">162593</text><text class="c" x="720" y="103">0.00%</text>
</g>
</svg>
</body></html>
